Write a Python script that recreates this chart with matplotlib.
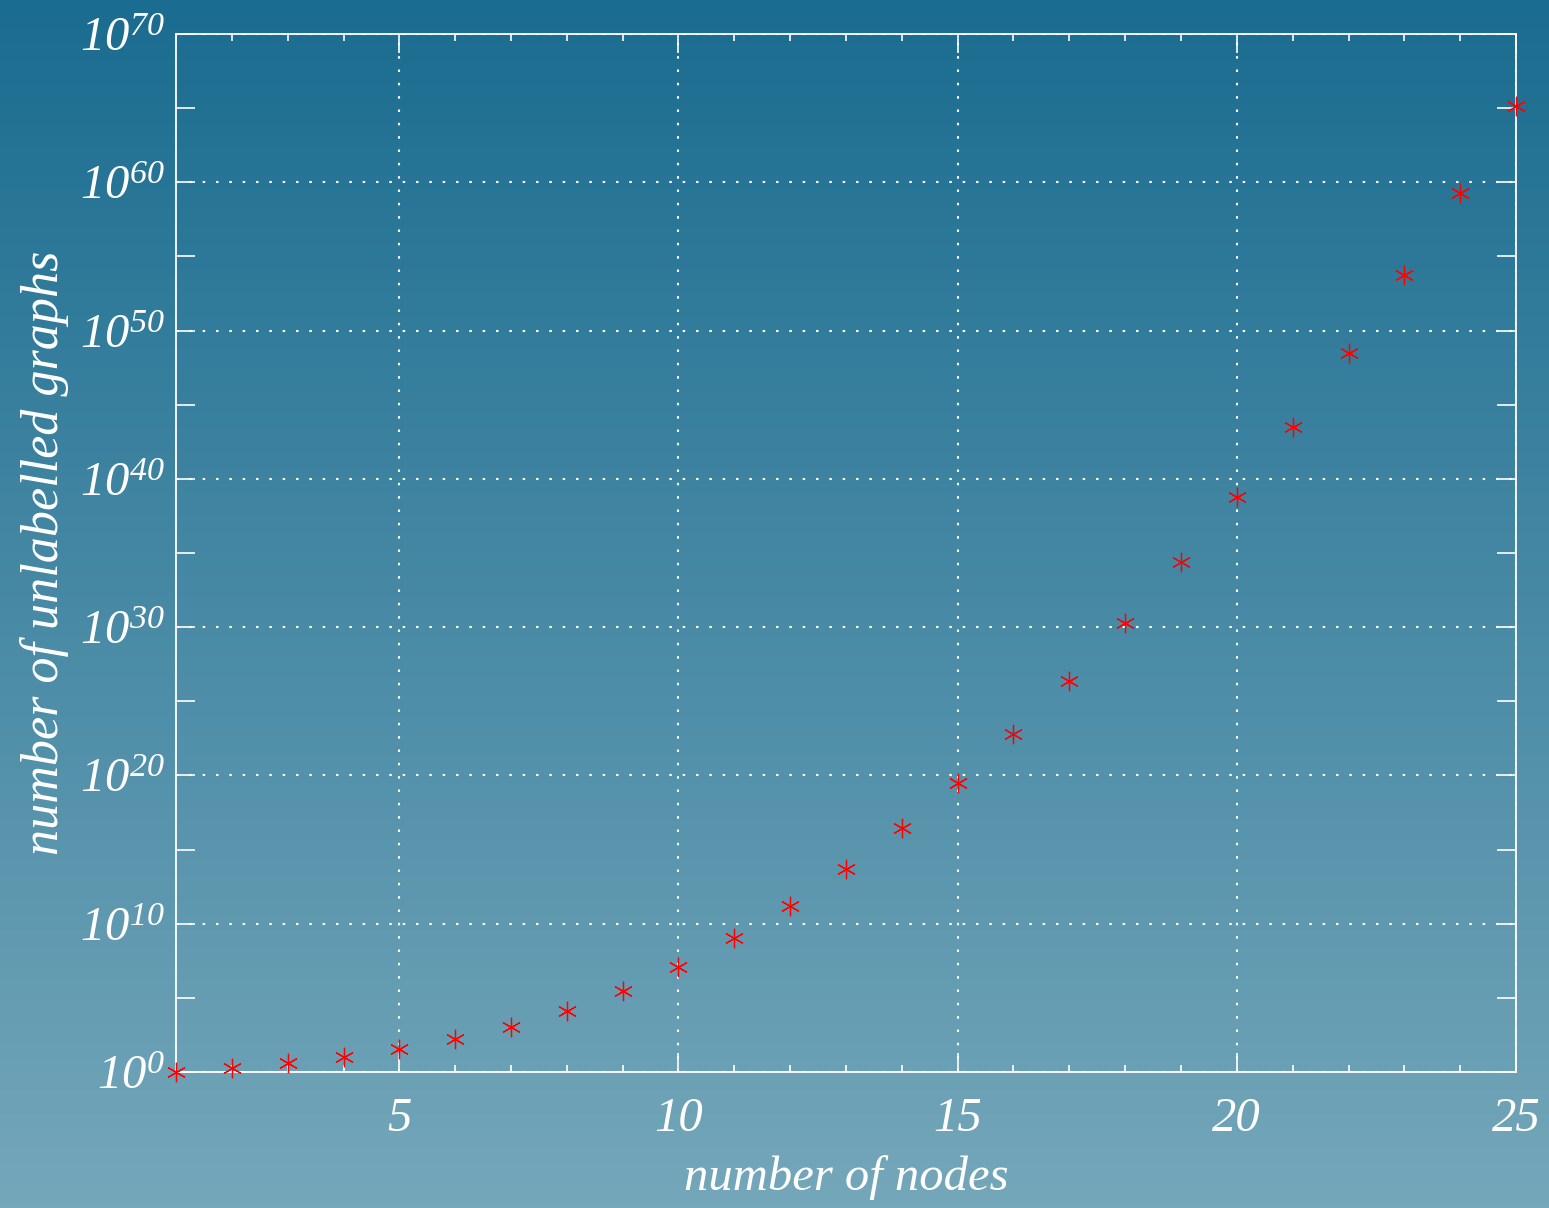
## Number of unlabelled graphs vs number of nodes (log scale)
import numpy as np
import matplotlib
matplotlib.use("Agg")
import matplotlib.pyplot as plt
from matplotlib import ticker

## -----------------------
## Data
nodes = list(range(1, 26))
n_graphs = [1, 2, 4, 11, 34, 156, 1044, 12346, 274668, 12005168,
            1.018997864e9, 1.65091172592e11, 5.0502031367952e13,
            2.9054155657235488e16, 3.1426485969804308768e19,
            6.4001015704527557894928e22, 2.45935864153532932683719776e26,
            1.787577725145611700547878190848e30, 2.4637809253125004524383007491432768e34,
            6.4549012279579984185616463849e38, 3.22202728998089834335e43,
            3.07e48, 5.6e53, 1.96e59, 1.31e65]
x_ticks = [5, 10, 15, 20, 25]
y_major = [10.0**k for k in range(0, 71, 10)]
y_minor = [10.0**k for k in range(5, 70, 10)]
y_labels = [r"$10^{%d}$" % k for k in range(0, 71, 10)]

## -----------------------
## Fonts
plt.rcParams['mathtext.fontset'] = 'custom'
plt.rcParams['mathtext.rm'] = 'Liberation Serif:italic'
plt.rcParams['mathtext.it'] = 'Liberation Serif:italic'
plt.rcParams['font.family'] = 'Liberation Serif'
plt.rcParams['font.style'] = 'italic'

fig = plt.figure(figsize=(15.49, 12.08), dpi=100)

## gradient background
bg = fig.add_axes([0, 0, 1, 1], zorder=-10)
top_c = np.array([26, 108, 144]) / 255
bot_c = np.array([117, 167, 186]) / 255
t = np.linspace(0, 1, 256)[:, None]
grad = top_c[None, :] * (1 - t) + bot_c[None, :] * t
bg.imshow(grad[:, None, :], aspect='auto', extent=[0, 1, 0, 1])
bg.axis('off')

ax = fig.add_axes([176/1549, 1 - 1072/1208, (1516-176)/1549, (1072-34)/1208])
ax.patch.set_alpha(0)

ax.plot(nodes, n_graphs, linestyle='none', marker=(6, 2, 0), markersize=14,
        markeredgecolor='#ff0000', markeredgewidth=0.9, color='#ff0000',
        clip_on=False, zorder=5)

ax.set_yscale('log')
ax.set_xlim(1, 25)
ax.set_ylim(1, 1e70)

ax.xaxis.set_major_locator(ticker.FixedLocator(x_ticks))
ax.xaxis.set_minor_locator(ticker.MultipleLocator(1))
ax.set_xticklabels([str(v) for v in x_ticks])
ax.yaxis.set_major_locator(ticker.FixedLocator(y_major))
ax.yaxis.set_minor_locator(ticker.FixedLocator(y_minor))
ax.yaxis.set_major_formatter(ticker.FixedFormatter(y_labels))
ax.yaxis.set_minor_formatter(ticker.NullFormatter())

ax.tick_params(which='both', direction='in', top=True, right=True, colors='white',
               width=1.2)
ax.tick_params(axis='x', which='major', length=14, pad=18, labelsize=35)
ax.tick_params(axis='x', which='minor', length=5)
ax.tick_params(axis='y', which='both', length=14, pad=8, labelsize=35)

for s in ax.spines.values():
    s.set_color('white')
    s.set_linewidth(1.3)

ax.grid(True, which='major', color='white', linestyle=(0, (1.2, 5.2)), linewidth=1.5)

ax.set_xlabel('number of nodes', color='white', fontsize=35, labelpad=10)
ax.set_ylabel('number of unlabelled graphs', color='white', fontsize=37.5, labelpad=8)

fig.savefig('out.png', dpi=100)
